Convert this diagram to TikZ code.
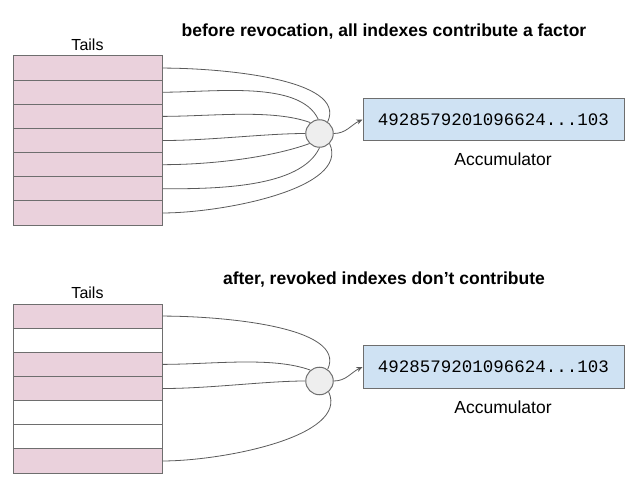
\documentclass[tikz,border=0pt]{standalone}
\usepackage{fontspec}
\setmainfont{Liberation Sans}
\setmonofont{Liberation Mono}
\usetikzlibrary{arrows.meta}

\definecolor{tailpink}{HTML}{EAD1DC}
\definecolor{accblue}{HTML}{CFE2F3}
\definecolor{sumgray}{HTML}{EEEEEE}
\definecolor{edgegray}{HTML}{6E6E6E}
\definecolor{wiregray}{HTML}{5A5A5A}

\begin{document}
\begin{tikzpicture}[
        x=1pt, y=-1pt,
        tailrow/.style={draw=edgegray, line width=1pt, minimum width=149pt, minimum height=24.15pt, inner sep=0pt},
        sum/.style={circle, draw=edgegray, fill=sumgray, line width=1pt, minimum size=27.5pt, inner sep=0pt},
        acc/.style={draw=edgegray, fill=accblue, line width=1pt, minimum width=261pt, minimum height=42.5pt, inner sep=0pt, font=\fontsize{17.5}{20}\ttfamily},
        wire/.style={wiregray, line width=0.8pt, out looseness=0.85, in looseness=0.7},
        lbl/.style={font=\fontsize{17.5}{20}\selectfont},
        ttl/.style={font=\fontsize{17.5}{20}\selectfont\bfseries}
    ]
    \useasboundingbox (0,0) rectangle (640,484);

    % before revocation
    \node[ttl] (title1) at (384,32) {before revocation, all indexes contribute a factor};
    \node[font=\fontsize{16}{19}\selectfont] (tails1) at (87.5,45) {Tails};
    \foreach \i in {1,...,7}
        \node[tailrow, fill=tailpink] (a\i) at (87.5,{56+24.15*(\i-0.5)}) {};

    \node[sum] (sum1) at (319.5,133.5) {};
    \node[acc] (acc1) at (493.5,119.5) {4928579201096624...103};
    \node[lbl] (acclbl1) at (503,159.5) {Accumulator};

    % every index goes into the product
    \draw[wire] (a1.east) to[out=0,in=65] (sum1.55);
    \draw[wire] (a2.east) to[out=0,in=115] (sum1.95);
    \draw[wire] (a3.east) to[out=0,in=160] (sum1.130);
    \draw[wire] (a4.east) to[out=0,in=180] (sum1.180);
    \draw[wire] (a5.east) to[out=0,in=200] (sum1.225);
    \draw[wire] (a6.east) to[out=0,in=245] (sum1.270);
    \draw[wire] (a7.east) to[out=0,in=295] (sum1.315);
    \draw[wire, -{Stealth[length=6pt,width=5pt]}] (sum1.east) to[out=0,in=205, looseness=1] (acc1.west);

    % after revocation
    \node[ttl] (title2) at (384,280) {after, revoked indexes don’t contribute};
    \node[font=\fontsize{16}{19}\selectfont] (tails2) at (87.5,293) {Tails};
    \foreach \i/\c in {1/tailpink,2/white,3/tailpink,4/tailpink,5/white,6/white,7/tailpink}
        \node[tailrow, fill=\c] (b\i) at (87.5,{304+24.15*(\i-0.5)}) {};

    \node[sum] (sum2) at (319.5,381) {};
    \node[acc] (acc2) at (493.5,367) {4928579201096624...103};
    \node[lbl] (acclbl2) at (503,407.5) {Accumulator};

    % only the kept indexes
    \draw[wire] (b1.east) to[out=0,in=65] (sum2.55);
    \draw[wire] (b3.east) to[out=0,in=160] (sum2.130);
    \draw[wire] (b4.east) to[out=0,in=180] (sum2.180);
    \draw[wire] (b7.east) to[out=0,in=295] (sum2.310);
    \draw[wire, -{Stealth[length=6pt,width=5pt]}] (sum2.east) to[out=0,in=205, looseness=1] (acc2.west);
\end{tikzpicture}
\end{document}
